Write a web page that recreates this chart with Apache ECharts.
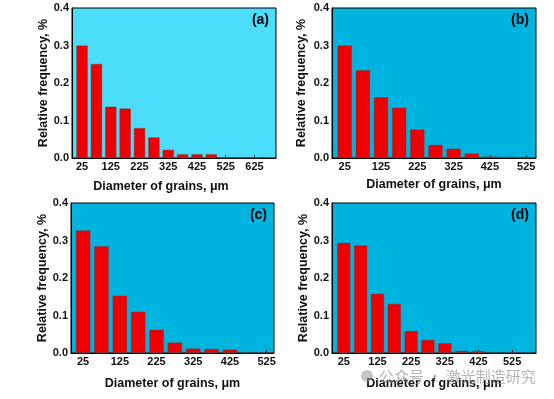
<!DOCTYPE html>
<html>
<head>
<meta charset="utf-8">
<script src="https://cdn.jsdelivr.net/npm/echarts@6/dist/echarts.min.js"></script>
<style>
  html, body { margin: 0; padding: 0; background: #fff; }
  #chart { width: 554px; height: 399px; }
</style>
</head>
<body>
<div id="chart"></div>
<script>
// grain diameter bins (um) and relative frequency per panel
const diamA = [25, 75, 125, 175, 225, 275, 325, 375, 425, 475, 525, 575, 625];
const freqA = [0.300, 0.251, 0.137, 0.132, 0.080, 0.055, 0.022, 0.010, 0.010, 0.010, 0, 0, 0];
const diamBCD = [25, 75, 125, 175, 225, 275, 325, 375, 425, 475, 525];
const freqB = [0.300, 0.234, 0.162, 0.134, 0.076, 0.035, 0.025, 0.012, 0.004, 0.003, 0];
const freqC = [0.327, 0.285, 0.153, 0.110, 0.062, 0.028, 0.012, 0.011, 0.009, 0, 0];
const freqD = [0.294, 0.287, 0.158, 0.131, 0.059, 0.035, 0.026, 0.006, 0.005, 0, 0];
const ticksA = [25, 125, 225, 325, 425, 525, 625];
const ticksBCD = [25, 125, 225, 325, 425, 525];
const panelLabels = ["(a)", "(b)", "(c)", "(d)"];

const FONT = "Liberation Sans";
const chart = echarts.init(document.getElementById("chart"));

const panels = [
  { grid: { left: 72, top: 8, width: 204, height: 150 }, bg: "#4bddfa", min: -10, max: 700,
    ticks: ticksA, diam: diamA, freq: freqA, xGap: 22, xPad: 26, yGap: 21 },
  { grid: { left: 332, top: 8, width: 204, height: 150 }, bg: "#00b4e0", min: -10, max: 552,
    ticks: ticksBCD, diam: diamBCD, freq: freqB, xGap: 20, xPad: 0, yGap: 24 },
  { grid: { left: 71, top: 203, width: 203, height: 150 }, bg: "#00b4e0", min: -8, max: 545,
    ticks: ticksBCD, diam: diamBCD, freq: freqC, xGap: 24, xPad: 0, yGap: 20 },
  { grid: { left: 332, top: 203, width: 204, height: 150 }, bg: "#00b4e0", min: -10, max: 596,
    ticks: ticksBCD, diam: diamBCD, freq: freqD, xGap: 24, xPad: 0, yGap: 21 },
];

const axisText = { color: "#111", fontFamily: FONT, fontWeight: "bold", fontSize: 11 };
const nameText = { color: "#111", fontFamily: FONT, fontWeight: "bold", fontSize: 12.5 };

const option = {
  animation: false,
  backgroundColor: "#fff",
  grid: panels.map((p) => ({
    ...p.grid,
    show: true,
    backgroundColor: p.bg,
    borderColor: "#000",
    borderWidth: 1,
  })),
  xAxis: panels.map((p, i) => ({
    type: "value",
    gridIndex: i,
    min: p.min,
    max: p.max,
    name: "Diameter of grains, μm",
    nameLocation: "middle",
    nameGap: p.xGap,
    nameTextStyle: { ...nameText, padding: [0, p.xPad, 0, 0] },
    axisLine: { show: true, onZero: false, lineStyle: { color: "#000", width: 1 } },
    axisTick: { show: true, inside: true, length: 3, customValues: p.ticks, lineStyle: { color: "#333" } },
    axisLabel: { ...axisText, margin: 3, customValues: p.ticks },
    splitLine: { show: false },
  })),
  yAxis: panels.map((p, i) => ({
    type: "value",
    gridIndex: i,
    min: 0,
    max: 0.4,
    interval: 0.1,
    name: "Relative frequency, %",
    nameLocation: "middle",
    nameGap: p.yGap,
    nameTextStyle: nameText,
    axisLine: { show: true, onZero: false, lineStyle: { color: "#000", width: 1 } },
    axisTick: { show: false },
    axisLabel: { ...axisText, margin: 3, formatter: (v) => v.toFixed(1) },
    splitLine: { show: false },
  })),
  series: panels.map((p, i) => ({
    type: "bar",
    xAxisIndex: i,
    yAxisIndex: i,
    barWidth: "79%",
    data: p.diam.map((d, k) => [d, p.freq[k]]),
    itemStyle: { color: "#ee0000", borderColor: "rgba(120,60,60,0.7)", borderWidth: 0.6 },
    z: 1,
  })),
  graphic: [
    ...panels.map((p, i) => ({
      type: "text",
      x: p.grid.left + p.grid.width - 7,
      y: p.grid.top + 12,
      style: {
        text: panelLabels[i],
        fill: "#000",
        font: `bold 14px "${FONT}"`,
        align: "right",
        verticalAlign: "middle",
      },
    })),
    {
      type: "circle",
      shape: { cx: 367, cy: 376, r: 6 },
      style: { fill: "rgba(150,150,150,0.55)" },
      z: 100,
    },
    {
      type: "text",
      x: 379,
      y: 376,
      style: {
        text: "公众号 · 激光制造研究",
        fill: "rgba(140,140,140,0.65)",
        font: '15px "Noto Sans CJK SC"',
        verticalAlign: "middle",
      },
      z: 100,
    },
  ],
};

chart.setOption(option);
</script>
</body>
</html>
